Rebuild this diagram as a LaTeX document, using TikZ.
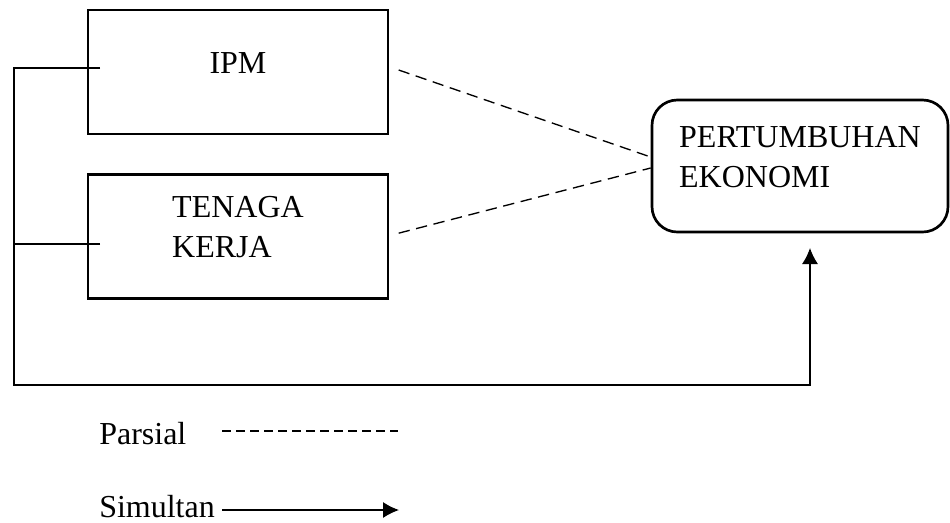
\documentclass[tikz,border=0pt]{standalone}
\usepackage{fontspec}
\setmainfont{Liberation Serif}
\usetikzlibrary{arrows.meta}

\begin{document}
\begin{tikzpicture}[x=0.75pt,y=-0.75pt,
    box/.style={draw, line width=2pt, minimum width=225pt, minimum height=93pt, inner sep=0pt, text depth=14pt, font=\fs},
    goal/.style={box, rounded corners=19pt, minimum width=222pt, minimum height=99pt, align=left},
    link/.style={line width=1pt},
    part/.style={link, dash pattern=on 8.5pt off 5pt},
    >={Latex[length=12pt,width=12pt]}]
      \def \fs {\fontsize{24}{30}\selectfont}
      \useasboundingbox (0,0) rectangle (950,522);

      % variabel
      \node[box] (ipm) at (238,72) {IPM};
      \node[box, align=left] (tk) at (238,236.5) {TENAGA\\KERJA};
      \node[goal] (pe) at (800,166) {PERTUMBUHAN\\EKONOMI};

      % parsial
      \draw[part] ([xshift=7pt,yshift=1.5pt]ipm.east) -- ([yshift=6.75pt]pe.west);
      \draw[part] ([xshift=7pt,yshift=2.5pt]tk.east) -- ([yshift=-1.5pt]pe.west);

      % simultan
      \coordinate (in1) at (100,68);
      \coordinate (in2) at (100,244);
      \coordinate (corner) at (14,385);
      \coordinate (tip) at (810,248);
      \draw[link, ->] (in1) -- (14,68) -- (corner) -| (tip);
      \draw[link] (in2) -- (14,244);

      % keterangan
      \node[font=\fs, anchor=base west, inner sep=0pt] (parsial) at (99,444) {Parsial};
      \node[font=\fs, anchor=base west, inner sep=0pt] (simultan) at (99,517) {Simultan};
      \coordinate (p1) at (222,431);
      \coordinate (p2) at (398,431);
      \coordinate (s1) at (222,510);
      \coordinate (s2) at (399,510);
      \draw[link, dash pattern=on 6.75pt off 3.75pt] (p1) -- (p2);
      \draw[link, ->] (s1) -- (s2);
    \end{tikzpicture}
\end{document}
